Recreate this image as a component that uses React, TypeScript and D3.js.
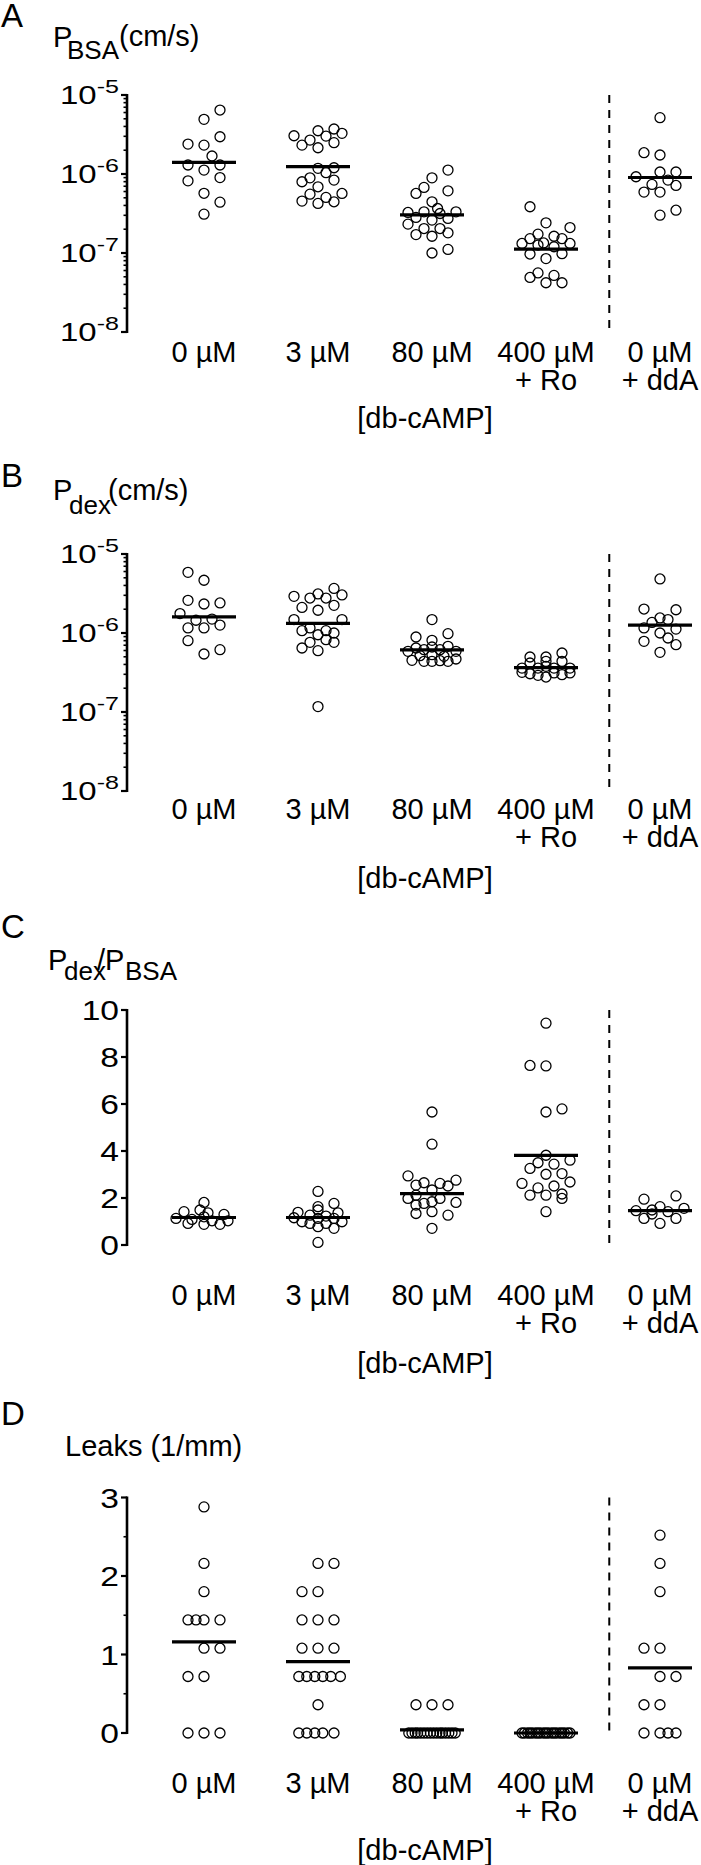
import React from 'react';
import * as d3 from 'd3';

type Pt = [number, number]; // [value, column offset within group]

// ---------- categories ----------
const categories = ['c0', 'c3', 'c80', 'c400Ro', 'c0ddA'];
const catLine1 = ['0 µM', '3 µM', '80 µM', '400 µM', '0 µM'];
const catLine2 = ['', '', '', '+ Ro', '+ ddA'];
const xAxisTitle = '[db-cAMP]';

// ---------- Panel A : P_BSA (cm/s) ----------
const pbsa0: Pt[] = [[6.45e-6, 2], [4.92e-6, 0], [2.96e-6, 2], [2.39e-6, -2], [2.32e-6, 0], [1.69e-6, 1], [1.3e-6, -2], [1.3e-6, 2], [1.12e-6, 0], [9.0e-7, 2], [8.2e-7, -2], [5.7e-7, 0], [4.4e-7, 2], [3.1e-7, 0]];
const pbsa3: Pt[] = [[3.05e-6, -3], [2.32e-6, -2], [2.69e-6, -1], [3.53e-6, 0], [2.15e-6, 0], [3.02e-6, 1], [3.71e-6, 2], [2.49e-6, 2], [3.27e-6, 3], [1.18e-6, 0], [1.04e-6, 1], [1.2e-6, 2], [7.98e-7, -2], [8.95e-7, -1], [8.37e-7, 2], [6.89e-7, 0], [5.56e-7, -1], [4.54e-7, -2], [4.24e-7, 0], [5.05e-7, 1], [4.45e-7, 2], [5.67e-7, 3]];
const pbsa80: Pt[] = [[1.12e-6, 2], [8.95e-7, 0], [6.76e-7, -1], [5.67e-7, -2], [6.12e-7, 2], [4.45e-7, 0], [3.66e-7, 0.7], [3.26e-7, -3], [3.32e-7, -1], [3.32e-7, 3], [3.16e-7, 1], [2.82e-7, -2], [2.74e-7, 2], [2.61e-7, 0], [2.32e-7, -3], [2.04e-7, -1], [2.04e-7, 1], [1.71e-7, -2], [1.63e-7, 0], [1.8e-7, 2], [1.0e-7, 0], [1.11e-7, 2]];
const pbsa400: Pt[] = [[3.85e-7, -2], [2.41e-7, 0], [2.1e-7, 3], [1.73e-7, -1], [1.63e-7, 1], [1.52e-7, -2], [1.52e-7, 2], [1.32e-7, -3], [1.34e-7, -0.3], [1.26e-7, -1], [1.32e-7, 3], [1.2e-7, 1], [9.7e-8, -2], [9.8e-8, 2], [8.5e-8, 0], [5.6e-8, -1], [4.9e-8, -2], [5.2e-8, 1], [4.2e-8, 0], [4.2e-8, 2]];
const pbsaDdA: Pt[] = [[5.16e-6, 0], [1.86e-6, -2], [1.74e-6, 0], [9.23e-7, -3], [1.06e-6, 0], [1.06e-6, 2], [8.37e-7, 1], [7.38e-7, -1], [7.16e-7, 2], [5.9e-7, -2], [5.9e-7, 0], [3.48e-7, 2], [3.01e-7, 0]];
const meanBSA = [1.4e-6, 1.24e-6, 3.04e-7, 1.12e-7, 9.03e-7];

// ---------- Panel B : P_dex (cm/s) ----------
const pdex0: Pt[] = [[5.86e-6, -2], [4.65e-6, 0], [2.59e-6, -2], [2.33e-6, 0], [2.4e-6, 2], [1.76e-6, -3], [1.45e-6, -1], [1.5e-6, 1], [1.26e-6, 2], [1.16e-6, -2], [1.16e-6, 0], [8.0e-7, -2], [6.15e-7, 2], [5.42e-7, 0]];
const pdex3: Pt[] = [[3.67e-6, 2], [2.91e-6, -3], [2.77e-6, -1], [3.12e-6, 0], [2.77e-6, 1], [3.03e-6, 3], [2.11e-6, -2], [2.24e-6, 2], [1.94e-6, 0], [1.48e-6, -3], [1.48e-6, 3], [1.07e-6, -2], [1.16e-6, -1], [9.5e-7, 0], [1.07e-6, 1], [1.0e-6, 2], [7.62e-7, -1], [8.24e-7, 1], [7.62e-7, 2], [6.46e-7, -2], [5.97e-7, 0], [1.17e-7, 0]];
const pdex80: Pt[] = [[1.48e-6, 0], [8.9e-7, -2], [9.8e-7, 2], [8.07e-7, 0], [6.65e-7, 0], [6.46e-7, -2], [6.78e-7, 2], [5.86e-7, -3], [6.15e-7, -1], [6.15e-7, 1], [5.86e-7, 3], [5.17e-7, -1.5], [5.32e-7, 0], [5.07e-7, 1.5], [4.51e-7, -2.5], [4.38e-7, -1], [4.38e-7, 0], [4.46e-7, 1], [4.38e-7, 2], [4.69e-7, 3]];
const pdex400: Pt[] = [[4.97e-7, -2], [4.97e-7, 0], [5.58e-7, 2], [4.17e-7, -2], [4.38e-7, 0], [4.38e-7, 2], [3.6e-7, -3], [3.6e-7, -1], [3.6e-7, 1], [3.6e-7, 3], [3.78e-7, 0], [3.18e-7, -3], [3.05e-7, -2], [2.91e-7, -1], [2.77e-7, 0], [3.12e-7, 1], [2.97e-7, 2], [3.12e-7, 3]];
const pdexDdA: Pt[] = [[4.83e-6, 0], [2.01e-6, -2], [1.97e-6, 2], [1.55e-6, 0], [1.36e-6, -1], [1.48e-6, 1], [1.16e-6, -2], [1.0e-6, 0], [1.12e-6, 2], [8.65e-7, 1], [7.85e-7, -2], [7.11e-7, 2], [5.69e-7, 0]];
const meanDex = [1.6e-6, 1.32e-6, 6.1e-7, 3.64e-7, 1.26e-6];

// ---------- Panel C : P_dex / P_BSA ----------
const ratio0: Pt[] = [[1.81, 0], [1.42, -2.5], [1.49, -0.5], [1.37, 0.5], [1.3, 2.5], [1.13, -3.5], [1.2, 0], [1.09, -1.5], [1.03, 1], [1.03, 3], [0.92, -2], [0.88, 0], [0.88, 2]];
const ratio3: Pt[] = [[2.28, 0], [1.77, 2], [1.63, 0], [1.49, 0], [1.39, -2.5], [1.37, 2.5], [1.27, -1], [1.23, 1], [1.16, -3], [1.13, 0], [1.13, 2], [0.99, -2], [0.99, 3], [0.92, -1], [0.92, 1], [0.78, 0], [0.71, 2], [0.11, 0]];
const ratio80: Pt[] = [[5.66, 0], [4.29, 0], [2.94, -3], [2.76, 3], [2.65, -1], [2.62, 1], [2.55, -2], [2.51, 2], [2.34, 0], [2.12, -2], [1.98, -3], [1.98, 1], [1.77, -1], [1.81, 3], [1.84, 0], [1.7, -2], [1.34, -2], [1.42, 0], [1.27, 2], [0.71, 0]];
const ratio400: Pt[] = [[9.44, 0], [7.64, -2], [7.62, 0], [5.66, 0], [5.79, 2], [3.82, 0], [3.5, -1], [3.44, 1], [3.61, 3], [3.26, -2], [3.01, 0], [3.04, 2], [2.62, -3], [2.43, -1], [2.51, 1], [2.68, 3], [2.12, -2], [2.12, 0], [2.17, 2], [1.98, 2], [1.42, 0]];
const ratioDdA: Pt[] = [[1.95, -2], [2.09, 2], [1.63, 0], [1.46, -3], [1.49, -1], [1.42, 1], [1.56, 3], [1.32, -1], [1.13, -2], [1.13, 2], [0.92, 0]];
const meanRatio = [1.17, 1.17, 2.19, 3.81, 1.46];

// ---------- Panel D : Leaks (1/mm) ----------
const leak0: Pt[] = [[2.88, 0], [2.16, 0], [1.8, 0], [1.44, -2], [1.44, -1], [1.44, 0], [1.44, 2], [1.08, 0], [1.08, 2], [0.72, -2], [0.72, 0], [0, -2], [0, 0], [0, 2]];
const leak3: Pt[] = [[2.16, 0], [2.16, 2], [1.8, -2], [1.8, 0], [1.44, -2], [1.44, 0], [1.44, 2], [1.08, -2], [1.08, 0], [1.08, 2], [0.72, -2.4], [0.72, -1.4], [0.72, -0.4], [0.72, 0.6], [0.72, 1.6], [0.72, 2.8], [0.36, 0], [0, -2.4], [0, -1.4], [0, -0.4], [0, 0.6], [0, 2]];
const leak80: Pt[] = [[0.36, -2], [0.36, 0], [0.36, 2], [0, -2.9], [0, -2.5], [0, -2.1], [0, -1.8], [0, -1.4], [0, -1], [0, -0.6], [0, -0.2], [0, 0.2], [0, 0.6], [0, 1], [0, 1.3], [0, 1.7], [0, 2.1], [0, 2.5], [0, 2.9]];
const leak400: Pt[] = [[0, -3], [0, -2.7], [0, -2.3], [0, -2], [0, -1.7], [0, -1.3], [0, -1], [0, -0.7], [0, -0.3], [0, 0], [0, 0.3], [0, 0.7], [0, 1], [0, 1.3], [0, 1.7], [0, 2], [0, 2.3], [0, 2.7], [0, 3]];
const leakDdA: Pt[] = [[2.52, 0], [2.16, 0], [1.8, 0], [1.08, -2], [1.08, 0], [0.72, 0], [0.72, 2], [0.36, -2], [0.36, 0], [0, -2], [0, 0], [0, 1], [0, 2]];
const meanLeaks = [1.16, 0.91, 0.04, 0, 0.83];

// ---------- ticks ----------
const logDomain: [number, number] = [1e-8, 1e-5];
const ratioTicks = [0, 2, 4, 6, 8, 10];
const leakTicks = [0, 1, 2, 3];
const leakMinorTicks = [0.5, 1.5, 2.5];

// ---------- layout / style ----------
const W = 701;
const H = 1865;
const AXIS_X = 127;
const LABEL_RIGHT = 119;
const JITTER = 8;
const R = 5;
const MEAN_HALF = 32;
const FONT = "'Liberation Sans', Arial, Helvetica, sans-serif";

const x = d3.scalePoint<string>().domain(categories).range([204, 660]);
const sepX = (x('c400Ro') as number) + x.step() * 0.555;
const X_TITLE_X = 425;

interface PanelSpec {
  letter: string;
  letterY: number;
  title: React.ReactNode;
  y: (v: number) => number;
  top: number;
  bottom: number;
  groups: Pt[][];
  means: number[];
  majors: number[];
  minors: number[];
  log: boolean;
  labelY: number;
  xTitleY: number;
}

const yA = d3.scaleLog().domain(logDomain).range([332, 95]);
const yB = d3.scaleLog().domain(logDomain).range([791, 554]);
const yC = d3.scaleLinear().domain([0, 10]).range([1245, 1010]);
const yD = d3.scaleLinear().domain([0, 3]).range([1733, 1497.5]);

const isDecade = (v: number) => Math.abs(Math.log10(v) - Math.round(Math.log10(v))) < 1e-9;
const logMajors = yA.ticks().filter(isDecade);
const logMinors = yA.ticks().filter((v) => !isDecade(v));

const T = (props: any) => <text fontFamily={FONT} fill="#000" {...props} />;

const panels: PanelSpec[] = [
  {
    letter: 'A', letterY: 27,
    title: (
      <g>
        <T x={53} y={47} fontSize={29}>P</T>
        <T x={67} y={59} fontSize={26}>BSA</T>
        <T x={119} y={46} fontSize={29}>(cm/s)</T>
      </g>
    ),
    y: yA, top: 95, bottom: 332,
    groups: [pbsa0, pbsa3, pbsa80, pbsa400, pbsaDdA], means: meanBSA,
    majors: logMajors, minors: logMinors, log: true,
    labelY: 362, xTitleY: 428,
  },
  {
    letter: 'B', letterY: 487,
    title: (
      <g>
        <T x={53} y={500} fontSize={29}>P</T>
        <T x={69} y={514} fontSize={26}>dex</T>
        <T x={108} y={500} fontSize={29}>(cm/s)</T>
      </g>
    ),
    y: yB, top: 554, bottom: 791,
    groups: [pdex0, pdex3, pdex80, pdex400, pdexDdA], means: meanDex,
    majors: logMajors, minors: logMinors, log: true,
    labelY: 819, xTitleY: 888,
  },
  {
    letter: 'C', letterY: 938,
    title: (
      <g>
        <T x={48} y={970} fontSize={29}>P</T>
        <T x={64} y={980} fontSize={26}>dex</T>
        <T x={97} y={970} fontSize={29}>/P</T>
        <T x={125} y={980} fontSize={26}>BSA</T>
      </g>
    ),
    y: yC, top: 1010, bottom: 1245,
    groups: [ratio0, ratio3, ratio80, ratio400, ratioDdA], means: meanRatio,
    majors: ratioTicks, minors: [], log: false,
    labelY: 1305, xTitleY: 1373,
  },
  {
    letter: 'D', letterY: 1425,
    title: <T x={65} y={1456} fontSize={29}>Leaks (1/mm)</T>,
    y: yD, top: 1497.5, bottom: 1733,
    groups: [leak0, leak3, leak80, leak400, leakDdA], means: meanLeaks,
    majors: leakTicks, minors: leakMinorTicks, log: false,
    labelY: 1793, xTitleY: 1860,
  },
];

function Panel({ p }: { p: PanelSpec }) {
  return (
    <g>
      <T x={1} y={p.letterY} fontSize={33}>{p.letter}</T>
      {p.title}

      {/* y axis */}
      <line x1={AXIS_X} x2={AXIS_X} y1={p.top - 1} y2={p.bottom + 1} stroke="#000" strokeWidth={2.6} />
      {p.majors.map((t) => (
        <line key={'M' + t} x1={AXIS_X - 6} x2={AXIS_X} y1={p.y(t)} y2={p.y(t)} stroke="#000" strokeWidth={2.2} />
      ))}
      {p.minors.map((t) => (
        <line key={'m' + t} x1={AXIS_X - 3.5} x2={AXIS_X} y1={p.y(t)} y2={p.y(t)} stroke="#000" strokeWidth={1.6} />
      ))}
      {p.majors.map((t) =>
        p.log ? (
          <T key={'L' + t} transform={`translate(${LABEL_RIGHT},${p.y(t) + 9}) scale(1.32,1)`} fontSize={25} textAnchor="end">
            10<tspan dy={-11} fontSize={19}>{String(Math.round(Math.log10(t)))}</tspan>
          </T>
        ) : (
          <T key={'L' + t} transform={`translate(${LABEL_RIGHT},${p.y(t) + 10}) scale(1.2,1)`} fontSize={28} textAnchor="end">
            {String(t)}
          </T>
        )
      )}

      {/* separator */}
      <line x1={sepX} x2={sepX} y1={p.top} y2={p.bottom} stroke="#000" strokeWidth={2} strokeDasharray="8,7" />

      {/* points */}
      {p.groups.map((g, gi) =>
        g.map((d, i) => (
          <circle
            key={gi + '-' + i}
            cx={(x(categories[gi]) as number) + d[1] * JITTER}
            cy={p.y(d[0])}
            r={R}
            fill="none"
            stroke="#000"
            strokeWidth={1.3}
          />
        ))
      )}

      {/* means */}
      {p.means.map((m, i) => (
        <line
          key={'mean' + i}
          x1={(x(categories[i]) as number) - MEAN_HALF}
          x2={(x(categories[i]) as number) + MEAN_HALF}
          y1={p.y(m)}
          y2={p.y(m)}
          stroke="#000"
          strokeWidth={3.2}
        />
      ))}

      {/* category labels */}
      {categories.map((c, i) => (
        <g key={'cl' + c}>
          <T x={x(c)} y={p.labelY} fontSize={29} textAnchor="middle">{catLine1[i]}</T>
          {catLine2[i] && (
            <T x={x(c)} y={p.labelY + 28} fontSize={29} textAnchor="middle">{catLine2[i]}</T>
          )}
        </g>
      ))}
      <T x={X_TITLE_X} y={p.xTitleY} fontSize={29} textAnchor="middle">{xAxisTitle}</T>
    </g>
  );
}

export default function App() {
  return (
    <svg
      width={W}
      height={H}
      viewBox={`0 0 ${W} ${H}`}
      style={{ position: 'absolute', left: 0, top: 0, background: '#fff' }}
    >
      <rect x={0} y={0} width={W} height={H} fill="#fff" />
      {panels.map((p) => (
        <Panel key={p.letter} p={p} />
      ))}
    </svg>
  );
}
